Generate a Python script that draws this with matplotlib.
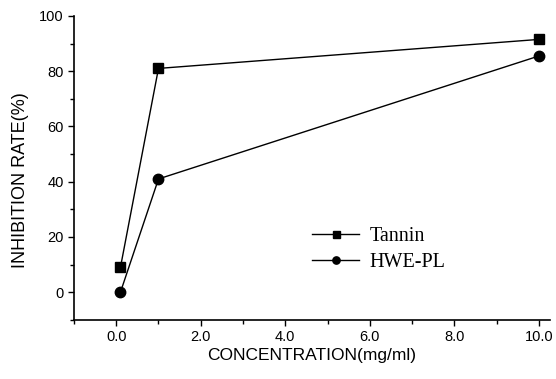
import matplotlib
matplotlib.use("Agg")
import matplotlib.pyplot as plt
from matplotlib.ticker import MultipleLocator, FixedFormatter, FixedLocator

# data
conc = [0.1, 1.0, 10.0]
tannin = [9.0, 81.0, 91.5]
hwe_pl = [0.0, 41.0, 85.5]
xtick_vals = [0, 2, 4, 6, 8, 10]
xtick_labels = ["0.0", "2.0", "4.0", "6.0", "8.0", "10.0"]

fig = plt.figure(figsize=(5.56, 3.79), dpi=100)
ax = fig.add_axes([0.133, 0.156, 0.856, 0.802])

ax.plot(conc, tannin, color="black", lw=1.0, marker="s", ms=7.2, label="Tannin")
ax.plot(conc, hwe_pl, color="black", lw=1.0, marker="o", ms=7.5, label="HWE-PL")

ax.set_xlim(-1.0, 10.26)
ax.set_ylim(-10, 100)

ax.spines["top"].set_visible(False)
ax.spines["right"].set_visible(False)
for s in ("left", "bottom"):
    ax.spines[s].set_linewidth(1.2)

ax.xaxis.set_major_locator(FixedLocator(xtick_vals))
ax.xaxis.set_major_formatter(FixedFormatter(xtick_labels))
ax.xaxis.set_minor_locator(MultipleLocator(1))
ax.yaxis.set_major_locator(MultipleLocator(20))
ax.yaxis.set_minor_locator(MultipleLocator(10))
ax.set_yticks([0, 20, 40, 60, 80, 100])

ax.tick_params(which="both", direction="out", width=1.0)
ax.tick_params(which="major", length=4, labelsize=10.5)
ax.tick_params(which="minor", length=3)
for lab in ax.get_xticklabels() + ax.get_yticklabels():
    lab.set_family("Liberation Sans")

ax.set_xlabel("CONCENTRATION(mg/ml)", family="Liberation Sans", fontsize=12.5, labelpad=3)
ax.set_ylabel("INHIBITION RATE(%)", family="Liberation Sans", fontsize=13)
ax.yaxis.set_label_coords(-0.095, 0.46)

leg = ax.legend(loc="upper left", bbox_to_anchor=(0.50, 0.305), frameon=False,
                borderaxespad=0, borderpad=0,
                prop={"family": "Liberation Serif", "size": 14.5},
                handlelength=2.35, handletextpad=0.5, markerscale=0.7, labelspacing=0.35)

fig.savefig("out.png", dpi=100)
